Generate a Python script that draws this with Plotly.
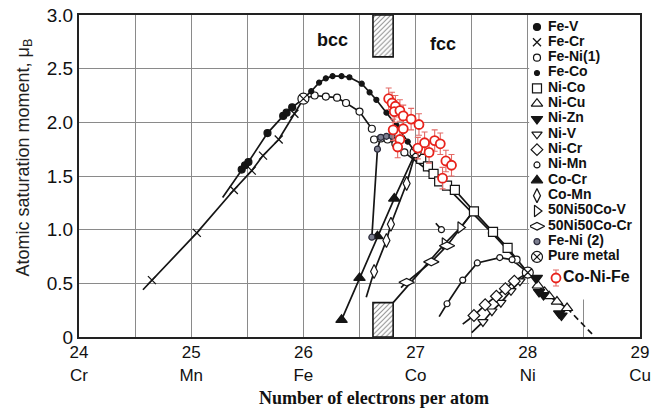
import plotly.graph_objects as go

# ---------------- data ----------------
x_ticks = [24, 25, 26, 27, 28, 29]
x_elements = ["Cr", "Mn", "Fe", "Co", "Ni", "Cu"]
y_ticks = [0, 0.5, 1.0, 1.5, 2.0, 2.5, 3.0]
y_labels = ["0", "0.5", "1.0", "1.5", "2.0", "2.5", "3.0"]

fe_v_x = [25.28, 25.45, 25.48, 25.51, 25.68, 25.82, 25.85, 25.90, 26.00]
fe_v_y = [1.30, 1.56, 1.60, 1.63, 1.90, 2.06, 2.09, 2.14, 2.22]

fe_cr_x = [24.57, 24.65, 25.05, 25.38, 25.54, 25.64, 25.78, 25.92, 26.00]
fe_cr_y = [0.44, 0.53, 0.97, 1.37, 1.55, 1.69, 1.84, 2.08, 2.22]

fe_ni1_bcc_x = [26.00, 26.10, 26.20, 26.30, 26.38, 26.50, 26.61]
fe_ni1_bcc_y = [2.22, 2.25, 2.24, 2.23, 2.18, 2.10, 1.94]
fe_ni1_fcc_x = [26.63, 26.69, 26.75, 26.82, 26.90, 27.20, 27.68, 27.90]
fe_ni1_fcc_y = [1.84, 1.85, 1.84, 1.80, 1.72, 1.48, 0.97, 0.72]

fe_co_x = [26.00, 26.07, 26.14, 26.20, 26.26, 26.34, 26.41, 26.52, 26.59, 26.65, 26.74, 26.83, 26.93, 27.00]
fe_co_y = [2.22, 2.29, 2.37, 2.41, 2.43, 2.43, 2.42, 2.36, 2.28, 2.21, 2.09, 1.97, 1.82, 1.72]

ni_co_x = [27.00, 27.05, 27.11, 27.16, 27.21, 27.28, 27.35, 27.52, 27.69, 27.82, 28.00]
ni_co_y = [1.72, 1.66, 1.59, 1.52, 1.45, 1.41, 1.37, 1.17, 0.98, 0.83, 0.60]

ni_cu_x = [28.00, 28.09, 28.15, 28.19, 28.26, 28.35]
ni_cu_y = [0.60, 0.48, 0.42, 0.38, 0.33, 0.27]
ni_cu_tail_x = [28.35, 28.58]
ni_cu_tail_y = [0.27, 0.02]

ni_zn_x = [28.08, 28.10, 28.14, 28.28, 28.30]
ni_zn_y = [0.55, 0.42, 0.39, 0.22, 0.20]

ni_v_x = [27.50, 27.60, 27.68, 27.76, 27.85, 27.93, 28.00]
ni_v_y = [0.04, 0.14, 0.24, 0.32, 0.43, 0.52, 0.60]

ni_cr_x = [27.42, 27.52, 27.62, 27.72, 27.80, 27.88, 28.00]
ni_cr_y = [0.12, 0.20, 0.30, 0.38, 0.45, 0.52, 0.60]

ni_mn_x = [27.21, 27.28, 27.42, 27.55, 27.75, 27.86, 28.00]
ni_mn_y = [0.19, 0.31, 0.53, 0.69, 0.74, 0.72, 0.60]
ni_mn_b_x = [27.18, 27.23]
ni_mn_b_y = [1.06, 1.00]

co_cr_x = [26.34, 26.50, 26.66, 26.81, 27.00]
co_cr_y = [0.16, 0.55, 0.94, 1.29, 1.72]

co_mn_x = [26.56, 26.63, 26.74, 26.78, 26.92, 27.00]
co_mn_y = [0.37, 0.61, 0.90, 1.05, 1.43, 1.72]

nico_v_x = [26.80, 27.26, 27.40, 27.50]
nico_v_y = [0.32, 0.87, 1.02, 1.15]

nico_cr_x = [26.87, 26.92, 27.14, 27.28, 27.50]
nico_cr_y = [0.46, 0.51, 0.70, 0.85, 1.15]

fe_ni2_x = [26.61, 26.66, 26.69, 26.74, 26.79]
fe_ni2_y = [0.93, 1.75, 1.86, 1.87, 1.87]

pure_x = [26.00, 27.00, 28.00]
pure_y = [2.22, 1.72, 0.60]

conife_x = [26.76, 26.79, 26.82, 26.81, 26.86, 26.89, 26.96, 27.03, 26.80, 26.89,
            26.86, 26.84, 27.02, 27.08, 27.12, 27.17, 27.22, 27.27, 27.32, 27.24]
conife_y = [2.22, 2.18, 2.15, 2.10, 2.11, 2.06, 2.03, 1.98, 1.93, 1.94,
            1.84, 1.77, 1.76, 1.81, 1.72, 1.83, 1.80, 1.64, 1.60, 1.48]
conife_err = [0.1] * 20

hatch_x = [26.71, 26.71]
hatch_base = [0.0, 2.61]
hatch_top = [0.32, 3.0]

phase_labels = ["bcc", "fcc"]
phase_x = [26.26, 27.24]
phase_y = [2.77, 2.73]

# ---------------- styles ----------------
BLACK = "#151515"
RED = "#e8231c"
FONT = "Liberation Sans"


def mk(symbol, size, fill, line=BLACK, lw=1.2):
    return dict(symbol=symbol, size=size, color=fill, line=dict(color=line, width=lw))


fig = go.Figure()

# hatched transition bands
fig.add_trace(go.Bar(
    x=hatch_x, base=hatch_base, y=[t - b for t, b in zip(hatch_top, hatch_base)],
    width=0.18, showlegend=False, hoverinfo="skip",
    marker=dict(color="white", line=dict(color=BLACK, width=1.6),
                pattern=dict(shape="/", fgcolor="#222222", bgcolor="white", size=3.5, solidity=0.3)),
))

# (name, line_x, line_y, marker_slice, marker)
series = [
    ("Fe-V", fe_v_x, fe_v_y, slice(1, None), mk("circle", 7, BLACK)),
    ("Fe-Cr", fe_cr_x, fe_cr_y, slice(1, -1), mk("x-thin", 8, BLACK, lw=1.3)),
    ("Fe-Ni(1)", fe_ni1_bcc_x, fe_ni1_bcc_y, slice(1, None), mk("circle", 7, "white")),
    ("Fe-Co", fe_co_x, fe_co_y, slice(1, -1), mk("circle", 5, BLACK)),
    ("Ni-Co", ni_co_x, ni_co_y, slice(1, -1), mk("square", 9, "white")),
    ("Ni-Cu", ni_cu_x, ni_cu_y, slice(1, None), mk("triangle-up", 10, "white")),
    ("Ni-Zn", None, None, None, mk("triangle-down", 10, BLACK)),
    ("Ni-V", ni_v_x, ni_v_y, slice(1, -1), mk("triangle-down", 9, "white")),
    ("Ni-Cr", ni_cr_x, ni_cr_y, slice(1, -1), mk("diamond", 9, "white")),
    ("Ni-Mn", ni_mn_x, ni_mn_y, slice(1, -1), mk("circle", 6, "white")),
    ("Co-Cr", co_cr_x, co_cr_y, slice(0, -1), mk("triangle-up", 10, BLACK)),
    ("Co-Mn", co_mn_x, co_mn_y, slice(1, -1), mk("diamond-tall", 10, "white")),
    ("50Ni50Co-V", nico_v_x, nico_v_y, slice(1, -1), mk("triangle-right", 10, "white")),
    ("50Ni50Co-Cr", nico_cr_x, nico_cr_y, slice(1, -1), mk("diamond-wide", 11, "white")),
    ("Fe-Ni (2)", fe_ni2_x, fe_ni2_y, slice(0, None), mk("circle", 6, "#7d7f90", line="#2a2a3a")),
    ("Pure metal", None, None, None, mk("circle-x", 11, "white")),
]

line_style = dict(color=BLACK, width=1.7)

# lines first
for name, xs, ys, sl, m in series:
    if xs is not None:
        fig.add_trace(go.Scatter(x=xs, y=ys, mode="lines", line=line_style,
                                 showlegend=False, hoverinfo="skip"))
fig.add_trace(go.Scatter(x=fe_ni1_fcc_x, y=fe_ni1_fcc_y, mode="lines", line=line_style,
                         showlegend=False, hoverinfo="skip"))
fig.add_trace(go.Scatter(x=ni_mn_b_x, y=ni_mn_b_y, mode="lines", line=line_style,
                         showlegend=False, hoverinfo="skip"))
fig.add_trace(go.Scatter(x=ni_cu_tail_x, y=ni_cu_tail_y, mode="lines",
                         line=dict(color=BLACK, width=1.7, dash="6px,4px"),
                         showlegend=False, hoverinfo="skip"))

# markers
marker_sets = {
    "Ni-Zn": (ni_zn_x, ni_zn_y),
    "Pure metal": (pure_x, pure_y),
}
for name, xs, ys, sl, m in series:
    if xs is None:
        mx, my = marker_sets[name]
    else:
        mx, my = xs[sl], ys[sl]
    fig.add_trace(go.Scatter(x=mx, y=my, mode="markers", marker=m, name=name, showlegend=False))
    if name == "Fe-Ni(1)":
        fig.add_trace(go.Scatter(x=fe_ni1_fcc_x, y=fe_ni1_fcc_y, mode="markers", marker=m,
                                 showlegend=False))
    if name == "Ni-Mn":
        fig.add_trace(go.Scatter(x=ni_mn_b_x[1:], y=ni_mn_b_y[1:], mode="markers", marker=m,
                                 showlegend=False))

conife_marker = mk("circle", 9, "white", line=RED, lw=1.8)
conife_err_style = dict(type="data", array=conife_err, color="#e46a66", thickness=1.1, width=3)
fig.add_trace(go.Scatter(x=conife_x, y=conife_y, mode="markers", marker=conife_marker,
                         error_y=conife_err_style, name="Co-Ni-Fe", showlegend=False))

# ---------------- legend (drawn on an auxiliary pixel-scaled axis) ----------------
leg_names = [s[0] for s in series] + ["Co-Ni-Fe"]
leg_markers = [s[4] for s in series] + [conife_marker]
leg_y = [27 + 15.33 * k for k in range(len(series))] + [278]
leg_sym_x = [7] * len(series) + [26]
leg_txt_x = [18] * len(series) + [33]
leg_size = [14] * len(series) + [16]
for k, (nm, m) in enumerate(zip(leg_names, leg_markers)):
    extra = {}
    if nm == "Co-Ni-Fe":
        extra = dict(error_y=dict(type="constant", value=8, color="#e46a66", thickness=1.1, width=3))
    fig.add_trace(go.Scatter(x=[leg_sym_x[k]], y=[leg_y[k]], mode="markers", marker=m,
                             xaxis="x2", yaxis="y2", showlegend=False, hoverinfo="skip", **extra))
fig.add_trace(go.Scatter(
    x=leg_txt_x, y=leg_y, mode="text", text=leg_names, textposition="middle right",
    textfont=dict(family=FONT, size=leg_size, color="#111111", weight="bold"),
    xaxis="x2", yaxis="y2", showlegend=False, hoverinfo="skip"))

# white panel behind legend (hides the grid there)
fig.add_shape(type="rect", xref="x", yref="y", x0=28.012, x1=29, y0=0.35, y1=3.0,
              fillcolor="white", line=dict(width=0), layer="between")

# phase labels
for t, px, py in zip(phase_labels, phase_x, phase_y):
    fig.add_annotation(x=px, y=py, text=t, showarrow=False,
                       font=dict(family=FONT, size=18, color="#111111", weight="bold"))

# axis titles
fig.add_annotation(xref="paper", yref="paper", x=-0.097, y=0.556, textangle=-90,
                   xanchor="center", yanchor="middle",
                   text="Atomic saturation moment, \u03bc<sub>B</sub>", showarrow=False,
                   font=dict(family=FONT, size=18, color="#222222"))
fig.add_annotation(xref="paper", yref="paper", x=0.525, y=-0.19,
                   xanchor="center", yanchor="middle",
                   text="Number of electrons per atom", showarrow=False,
                   font=dict(family="Liberation Serif", size=18, color="#111111", weight="bold"))

grid_c = "#8a8a8a"
fig.update_layout(
    width=667, height=409,
    margin=dict(l=79, r=27, t=15, b=72, autoexpand=False),
    paper_bgcolor="white", plot_bgcolor="rgba(0,0,0,0)",
    showlegend=False, barmode="overlay",
    xaxis=dict(range=[24, 29], tickvals=x_ticks,
               ticktext=[f"{v}<br>{e}" for v, e in zip(x_ticks, x_elements)],
               showgrid=True, gridcolor=grid_c, gridwidth=1,
               minor=dict(tickvals=[v + 0.5 for v in x_ticks[:-1]], showgrid=True,
                          gridcolor=grid_c, gridwidth=1),
               showline=True, mirror=True, linecolor="#222222", linewidth=2,
               zeroline=False, ticks="", automargin=False, ticklabelstandoff=-1,
               tickfont=dict(family=FONT, size=17, color="#111111")),
    yaxis=dict(range=[0, 3], tickvals=y_ticks, ticktext=y_labels,
               showgrid=True, gridcolor=grid_c, gridwidth=1,
               showline=True, mirror=True, linecolor="#222222", linewidth=2,
               zeroline=False, ticks="", automargin=False,
               tickfont=dict(family=FONT, size=19, color="#111111")),
    xaxis2=dict(domain=[0.8039, 1.0], range=[0, 110], visible=False, anchor="y2",
                fixedrange=True, automargin=False),
    yaxis2=dict(domain=[0, 1], range=[337, 15], visible=False, anchor="x2",
                fixedrange=True, automargin=False),
)

fig.write_html("out.html", config={"displayModeBar": False},
               post_script="document.body.style.margin='0';")
